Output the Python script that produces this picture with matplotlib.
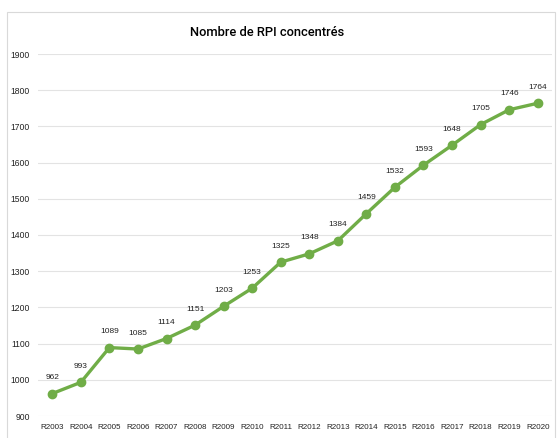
import matplotlib.pyplot as plt
from matplotlib.patches import Rectangle

plt.rcParams['font.family'] = ['Liberation Sans', 'DejaVu Sans']

years = ['R2003', 'R2004', 'R2005', 'R2006', 'R2007', 'R2008', 'R2009', 'R2010', 'R2011',
         'R2012', 'R2013', 'R2014', 'R2015', 'R2016', 'R2017', 'R2018', 'R2019', 'R2020']
rpi = [962, 993, 1089, 1085, 1114, 1151, 1203, 1253, 1325,
       1348, 1384, 1459, 1532, 1593, 1648, 1705, 1746, 1764]

fig = plt.figure(figsize=(5.58, 4.38), dpi=100)
fig.patches.append(Rectangle((7/558, -0.01), 548/558, 1 - 12/438 + 0.01, transform=fig.transFigure,
                             fill=False, edgecolor='#d9d9d9', linewidth=0.8))
ax = fig.add_axes([38/558, 22/438, 514/558, 362/438])

x = range(len(years))
green = '#70ad47'
ax.plot(x, rpi, color=green, linewidth=2.4, marker='o', markersize=6, zorder=3)

for i, v in zip(x, rpi):
    ax.annotate(str(v), (i, v), xytext=(0, 9), textcoords='offset points',
                ha='center', va='bottom', fontsize=6, color='#222222')

ax.set_xlim(-0.5, len(years) - 0.5)
ax.set_ylim(900, 1900)
ax.set_yticks(range(900, 2000, 100))
ax.set_xticks(list(x))
ax.set_xticklabels(years, fontsize=5.8, color='#222222')
ax.tick_params(axis='y', labelsize=6.2, colors='#222222', length=0, pad=6)
ax.tick_params(axis='x', length=0, pad=6)
ax.grid(axis='y', color='#e3e3e3', linewidth=0.8)
ax.set_axisbelow(True)
for s in ax.spines.values():
    s.set_visible(False)

fig.text(267/558, 1 - 32/438, 'Nombre de RPI concentrés', ha='center', va='center',
         fontsize=9.3, fontweight='medium', family=['Roboto', 'DejaVu Sans'], color='#000000')

fig.savefig('out.png', dpi=100)
